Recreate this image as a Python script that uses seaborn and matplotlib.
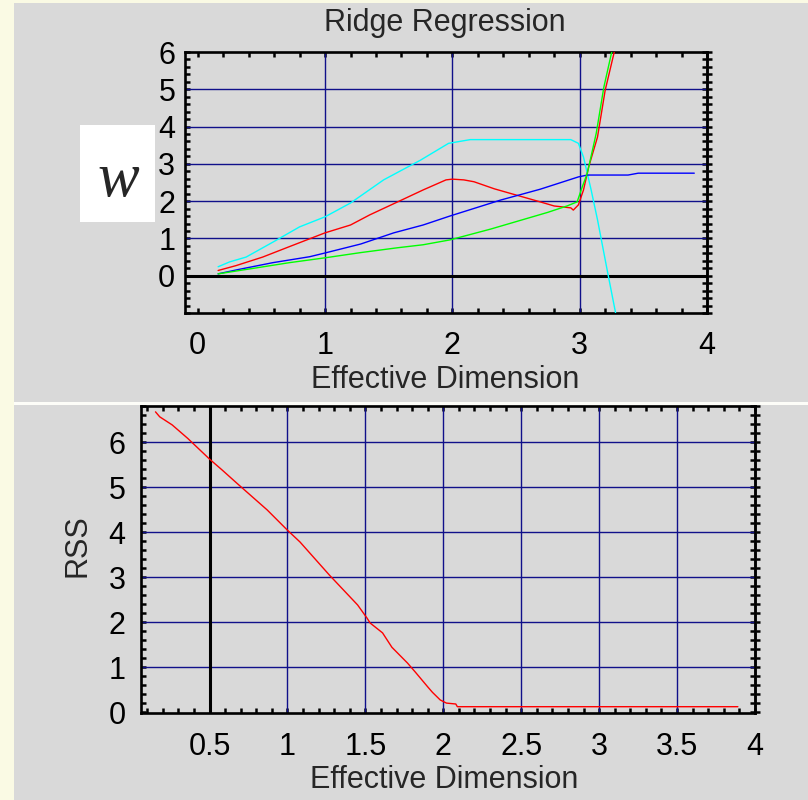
import numpy as np
import pandas as pd
import seaborn as sns
import matplotlib.pyplot as plt
from matplotlib.patches import Rectangle
from matplotlib.ticker import MultipleLocator, NullFormatter

# ridge coefficient paths (effective dimension vs weight)
cyan_x = [0.16, 0.25, 0.38, 0.59, 0.80, 1.00, 1.20, 1.46, 1.75, 1.97, 2.14, 2.93, 2.99, 3.03, 3.09, 3.14, 3.22, 3.285]
cyan_y = [0.24, 0.37, 0.50, 0.90, 1.31, 1.58, 1.95, 2.57, 3.10, 3.55, 3.65, 3.65, 3.55, 3.18, 2.30, 1.50, 0.08, -1.05]

red_x = [0.16, 0.30, 0.51, 0.72, 1.00, 1.20, 1.35, 1.57, 1.77, 1.95, 2.00, 2.09, 2.17, 2.33, 2.69, 2.80, 2.93, 2.95, 2.99, 3.03, 3.07, 3.14, 3.20, 3.275]
red_y = [0.14, 0.27, 0.50, 0.78, 1.15, 1.36, 1.63, 1.98, 2.30, 2.57, 2.59, 2.57, 2.52, 2.33, 1.98, 1.87, 1.82, 1.76, 1.90, 2.30, 2.91, 3.72, 4.97, 6.05]

green_x = [0.16, 0.46, 0.72, 1.00, 1.28, 1.57, 1.77, 1.98, 2.30, 2.75, 2.90, 2.98, 3.02, 3.06, 3.13, 3.19, 3.255]
green_y = [0.05, 0.21, 0.35, 0.48, 0.62, 0.75, 0.83, 0.96, 1.25, 1.70, 1.87, 1.98, 2.38, 2.75, 3.82, 5.06, 6.05]

blue_x = [0.16, 0.31, 0.59, 0.88, 1.00, 1.28, 1.54, 1.77, 1.98, 2.38, 2.69, 2.99, 3.06, 3.38, 3.46, 3.90]
blue_y = [0.05, 0.16, 0.35, 0.51, 0.61, 0.85, 1.15, 1.36, 1.60, 2.03, 2.32, 2.65, 2.70, 2.70, 2.75, 2.75]

# residual sum of squares
rss_x = [0.153, 0.18, 0.26, 0.36, 0.50, 0.58, 0.68, 0.87, 1.00, 1.08, 1.27, 1.45, 1.51, 1.53, 1.61, 1.67,
         1.77, 1.82, 1.90, 1.93, 1.98, 2.02, 2.08, 2.09, 3.89]
rss_y = [6.67, 6.56, 6.38, 6.08, 5.62, 5.38, 5.07, 4.49, 4.04, 3.78, 3.04, 2.38, 2.09, 1.98, 1.76, 1.44,
         1.09, 0.89, 0.56, 0.44, 0.27, 0.20, 0.18, 0.12, 0.12]

sns.set_style('white')
plt.rcParams['font.family'] = ['Liberation Sans', 'DejaVu Sans']

W, H = 808, 800
FS = 22
fig = plt.figure(figsize=(W / 100, H / 100), dpi=100, facecolor='#FAFAE4')

def px_rect(x0, y0, x1, y1, color):
    fig.add_artist(Rectangle((x0 / W, 1 - y1 / H), (x1 - x0) / W, (y1 - y0) / H,
                             transform=fig.transFigure, facecolor=color, edgecolor='none', zorder=0))

px_rect(14, 3, 808, 800, '#FDFDF8')
px_rect(14, 3, 808, 402, '#D9D9D9')
px_rect(14, 405, 808, 800, '#D9D9D9')

navy = '#10108A'
gray = '#D9D9D9'

def style_axes(ax, ystep):
    ax.set_facecolor(gray)
    for s in ax.spines.values():
        s.set_color('black')
        s.set_linewidth(1.9)
    ax.tick_params(which='both', direction='in', top=True, right=False, left=True, bottom=True,
                   width=1.8, length=3.5, color='black', labelsize=FS, labelcolor='black')
    # right side ticks cross the frame
    sec = ax.secondary_yaxis('right')
    sec.yaxis.set_major_locator(MultipleLocator(ystep))
    sec.yaxis.set_major_formatter(NullFormatter())
    sec.tick_params(direction='inout', width=1.8, length=7, color='black')
    sec.spines['right'].set_linewidth(1.9)
    ax.set_xlabel('')
    ax.set_ylabel('')

# top panel
ax1 = fig.add_axes([185 / W, 1 - 313 / H, 522 / W, 261 / H])
top = pd.concat([
    pd.DataFrame({'dim': cyan_x, 'w': cyan_y, 'coef': 'c'}),
    pd.DataFrame({'dim': red_x, 'w': red_y, 'coef': 'r'}),
    pd.DataFrame({'dim': blue_x, 'w': blue_y, 'coef': 'b'}),
    pd.DataFrame({'dim': green_x, 'w': green_y, 'coef': 'g'}),
])
for v in [1, 2, 3]:
    ax1.axvline(v, color=navy, lw=1.0, zorder=1)
for v in [1, 2, 3, 4, 5]:
    ax1.axhline(v, color=navy, lw=1.0, zorder=1)
ax1.axhline(0, color='black', lw=2.2, zorder=1)
sns.lineplot(data=top, x='dim', y='w', hue='coef', sort=False, estimator=None,
             palette={'c': '#00FFFF', 'r': '#FF0000', 'b': '#0000FF', 'g': '#00FF00'},
             linewidth=1.0, legend=False, ax=ax1, zorder=3)
ax1.set_xlim(-0.1, 4)
ax1.set_ylim(-1, 6)
ax1.xaxis.set_major_locator(MultipleLocator(1))
ax1.xaxis.set_minor_locator(MultipleLocator(0.2))
ax1.yaxis.set_major_locator(MultipleLocator(1))
ax1.yaxis.set_minor_locator(MultipleLocator(0.2))
style_axes(ax1, 0.2)
ax1.tick_params(axis='x', pad=13)
ax1.tick_params(axis='y', pad=7)
ax1.set_yticks([0, 1, 2, 3, 4, 5, 6])
fig.text(445 / W, 1 - 23 / H, 'Ridge Regression', fontsize=FS, ha='center', va='center')
fig.text(445 / W, 1 - 380 / H, 'Effective Dimension', fontsize=FS, ha='center', va='center')

px_rect(80, 125, 155, 222, 'white')
fig.text(118 / W, 1 - 181 / H, 'w', fontsize=45, family=['Liberation Serif'], style='italic',
         ha='center', va='center', zorder=5)

# bottom panel
ax2 = fig.add_axes([141 / W, 1 - 713 / H, 614 / W, 307 / H])
for v in [1, 1.5, 2, 2.5, 3, 3.5]:
    ax2.axvline(v, color=navy, lw=1.0, zorder=1)
for v in [1, 2, 3, 4, 5, 6]:
    ax2.axhline(v, color=navy, lw=1.0, zorder=1)
ax2.axvline(0.5, color='black', lw=2.2, zorder=1)
sns.lineplot(x=rss_x, y=rss_y, color='#FF0000', linewidth=1.0, sort=False, estimator=None, ax=ax2, zorder=3)
ax2.set_xlim(0.06, 4)
ax2.set_ylim(-0.02, 6.8)
ax2.xaxis.set_major_locator(MultipleLocator(0.5))
ax2.xaxis.set_minor_locator(MultipleLocator(0.1))
ax2.yaxis.set_major_locator(MultipleLocator(1))
ax2.yaxis.set_minor_locator(MultipleLocator(0.2))
style_axes(ax2, 0.2)
ax2.set_xticks([0.5, 1, 1.5, 2, 2.5, 3, 3.5, 4])
ax2.set_xticklabels(['0.5', '1', '1.5', '2', '2.5', '3', '3.5', '4'])
ax2.tick_params(axis='x', pad=14)
ax2.tick_params(axis='y', pad=11)
fig.text(444 / W, 1 - 780 / H, 'Effective Dimension', fontsize=FS, ha='center', va='center')
fig.text(77 / W, 1 - 546 / H, 'RSS', fontsize=FS, ha='center', va='center', rotation=90)

fig.savefig('out.png', dpi=100, facecolor=fig.get_facecolor())
